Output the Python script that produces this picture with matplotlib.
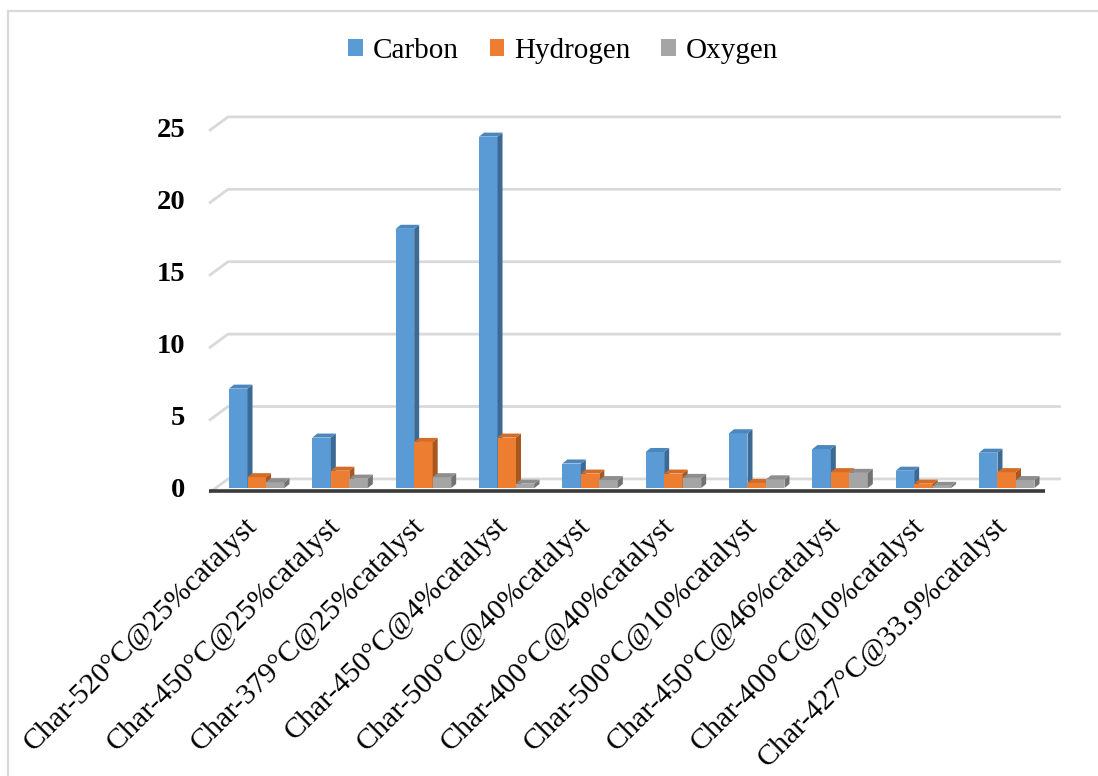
import matplotlib
matplotlib.use('Agg')
import matplotlib.pyplot as plt
import matplotlib.transforms as mtransforms
from matplotlib.patches import Polygon, Rectangle, Patch

plt.rcParams['font.family'] = ['Liberation Serif', 'DejaVu Serif']

samples = ['Char-520°C@25%catalyst', 'Char-450°C@25%catalyst',
           'Char-379°C@25%catalyst', 'Char-450°C@4%catalyst',
           'Char-500°C@40%catalyst', 'Char-400°C@40%catalyst',
           'Char-500°C@10%catalyst', 'Char-450°C@46%catalyst',
           'Char-400°C@10%catalyst', 'Char-427°C@33.9%catalyst']
carbon = [6.9, 3.5, 18.0, 24.4, 1.7, 2.5, 3.8, 2.7, 1.2, 2.45]
hydrogen = [0.75, 1.2, 3.2, 3.5, 1.0, 1.0, 0.35, 1.1, 0.3, 1.1]
oxygen = [0.4, 0.65, 0.75, 0.3, 0.55, 0.7, 0.6, 1.05, 0.15, 0.55]
yticks = [0, 5, 10, 15, 20, 25]

series = [('Carbon', carbon, ('#5B9BD5', '#3D6A94', '#4B86BD')),
          ('Hydrogen', hydrogen, ('#ED7D31', '#A9561F', '#D46B27')),
          ('Oxygen', oxygen, ('#A5A5A5', '#727272', '#8E8E8E'))]

W, H = 1098, 776
fig = plt.figure(figsize=(W/100, H/100), dpi=100)
# axes: y=0 at pixel 488, y=25 at pixel 128; groups spaced 83.3 px
ax = fig.add_axes([215.1/W, 1-488/H, 833.3/W, 360/H])
ax.set_xlim(-0.5, 9.5)
ax.set_ylim(0, 25)
ax.axis('off')

# chart frame
fig.patches.append(Rectangle((8/W, -0.01), 1.0, 1-11/H+0.01,
                             transform=fig.transFigure, fill=False,
                             edgecolor='#D9D9D9', lw=1.6))

# back wall gridlines with the diagonal to the front edge
for v in yticks:
    yb = 0.63 + 1.0056*v
    yf = yb - 0.97
    ax.plot([-0.573, -0.345, 9.65], [yf, yb, yb], color='#D9D9D9',
            lw=2, zorder=1, clip_on=False, solid_capstyle='butt')

# front edge of the floor
ax.plot([-0.573, 9.46], [-0.21, -0.21], color='#3A3A3A', lw=2.6,
        zorder=2, clip_on=False, solid_capstyle='butt')

bw = 0.222   # bar width
dx = 0.06    # depth offset x
dy = 0.28    # depth offset y
for i in range(len(samples)):
    for k, (name, vals, (front, side, top)) in enumerate(series):
        x0 = i + (k-1.5)*bw
        x1 = x0 + bw
        h = vals[i]
        z = 3 + i*3 + k
        ax.add_patch(Polygon([(x0, 0), (x1, 0), (x1, h), (x0, h)],
                             closed=True, facecolor=front, lw=0, zorder=z))
        ax.add_patch(Polygon([(x1, 0), (x1+dx, dy), (x1+dx, h+dy), (x1, h)],
                             closed=True, facecolor=side, lw=0, zorder=z))
        ax.add_patch(Polygon([(x0, h), (x1, h), (x1+dx, h+dy), (x0+dx, h+dy)],
                             closed=True, facecolor=top, lw=0, zorder=z))

# y tick labels
trans = mtransforms.blended_transform_factory(fig.transFigure, ax.transData)
for v in yticks:
    ax.text(185/W, v - 0.2, str(v), transform=trans, ha='right',
            va='center', fontsize=20.5, fontweight='bold')

# rotated category labels
for i, s in enumerate(samples):
    ax.text(i - 0.15, -1.7, s, rotation=45, rotation_mode='anchor',
            ha='right', va='top', fontsize=21.5, clip_on=False)

handles = [Patch(facecolor=c[0], edgecolor='none', label=n)
           for n, _, c in series]
fig.legend(handles=handles, loc='center', bbox_to_anchor=(0.513, 1-51/H),
           ncol=3, frameon=False, fontsize=21, handlelength=0.5,
           handleheight=0.5, handletextpad=0.35, columnspacing=1.05)

fig.savefig('out.png', dpi=100)
